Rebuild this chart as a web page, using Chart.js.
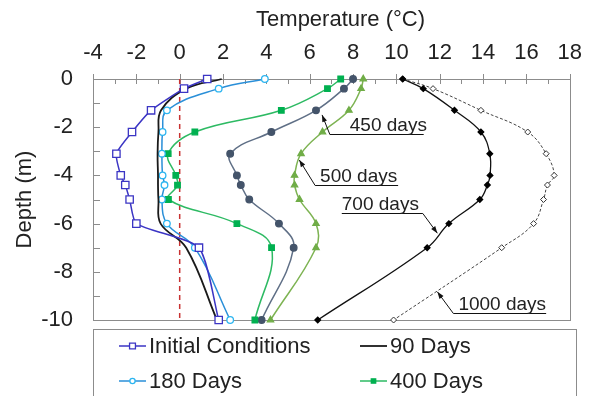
<!DOCTYPE html>
<html>
<head>
<meta charset="utf-8">
<script src="https://cdn.jsdelivr.net/npm/chart.js@4.4.1/dist/chart.umd.min.js"></script>
<style>
  body { margin: 0; background: #fff; }
</style>
</head>
<body>
<canvas id="chart" width="595" height="396"></canvas>
<script>
// depths (m) shared by every profile
const depths = [0, -0.4, -1.3, -2.2, -3.1, -4.0, -4.4, -5.0, -6.0, -7.0, -10];

// temperatures (°C)
const initialTemps = [1.27, 0.2, -1.32, -2.2, -2.92, -2.72, -2.51, -2.31, -2.0, 0.89, 1.8];
const days90Temps = [1.94, 0.3, -0.86, -0.98, -1.02, -1.0, -1.0, -0.98, -0.88, 0.3, 1.72];
const days180Temps = [3.93, 1.8, -0.59, -0.79, -0.82, -0.79, -0.7, -0.82, -0.59, 0.7, 2.33];
const days400Temps = [7.43, 6.82, 4.69, 0.7, -0.53, -0.18, -0.1, -0.52, 2.64, 4.24, 3.47];
const days450Temps = [8.0, 7.58, 6.29, 4.23, 2.33, 2.64, 2.82, 3.21, 4.58, 5.26, 3.78];
const days500Temps = [8.47, 8.37, 7.81, 6.59, 5.6, 5.3, 5.3, 5.53, 6.29, 6.29, 4.19];
const days700Temps = [10.29, 11.24, 12.68, 13.9, 14.31, 14.32, 14.2, 13.85, 12.42, 11.42, 6.37];
const days1000Temps = [10.29, 11.69, 13.9, 16.06, 16.91, 17.28, 16.97, 16.79, 16.33, 14.86, 9.87];

// freezing line
const freezeTemps = [0, 0];
const freezeDepths = [0, -10];

// callout labels: text, text left, underline from/to, underline depth, arrow tip
const callouts = [
  { text: '450 days', tx: 7.85, x0: 6.93, x1: 11.26, y: -2.29, tip: [6.57, -1.49], elbow: 6.93 },
  { text: '500 days', tx: 6.48, x0: 6.25, x1: 10.08, y: -4.40, tip: [5.52, -3.36], elbow: 6.25 },
  { text: '700 days', tx: 7.48, x0: 7.48, x1: 11.22, y: -5.56, tip: [11.89, -6.40], elbow: 11.22 },
  { text: '1000 days', tx: 12.86, x0: 12.63, x1: 16.91, y: -9.72, tip: [11.89, -8.83], elbow: 12.63 }
];

const FONT = '"Liberation Sans", Arial, sans-serif';
const TEXT = '#222';

function profile(label, temps, style) {
  return Object.assign({
    label: label,
    data: temps.map((t, i) => ({ x: t, y: depths[i] })),
    showLine: true,
    tension: 0.4,
    borderWidth: 1.5,
    pointBorderWidth: 1.3,
    clip: false
  }, style);
}

const datasets = [
  profile('Initial Conditions', initialTemps, {
    borderColor: '#3B35C4', pointStyle: 'rect', pointRadius: 5.2,
    pointBackgroundColor: '#fff', pointBorderColor: '#3B35C4', tension: 0.2
  }),
  profile('90 Days', days90Temps, {
    borderColor: '#1a1a1a', borderWidth: 1.8, pointRadius: 0
  }),
  profile('180 Days', days180Temps, {
    borderColor: '#2A8FD8', pointStyle: 'circle', pointRadius: 3.3,
    pointBackgroundColor: '#fff', pointBorderColor: '#2CB5F0'
  }),
  profile('400 Days', days400Temps, {
    borderColor: '#2DBA63', pointStyle: 'rect', pointRadius: 3.9,
    pointBackgroundColor: '#00B050', pointBorderColor: '#00B050'
  }),
  profile('450 Days', days450Temps, {
    borderColor: '#5F6F86', pointStyle: 'circle', pointRadius: 3.3,
    pointBackgroundColor: '#44546A', pointBorderColor: '#44546A'
  }),
  profile('500 Days', days500Temps, {
    borderColor: '#7DB352', pointStyle: 'triangle', pointRadius: 3.6,
    pointBackgroundColor: '#70AD47', pointBorderColor: '#70AD47'
  }),
  profile('700 Days', days700Temps, {
    borderColor: '#111', borderWidth: 1.3, pointStyle: 'rectRot', pointRadius: 2.8,
    pointBackgroundColor: '#000', pointBorderColor: '#000'
  }),
  profile('1000 Days', days1000Temps, {
    borderColor: '#444', borderWidth: 1, borderDash: [3, 2], pointStyle: 'rectRot', pointRadius: 3,
    pointBackgroundColor: '#fff', pointBorderColor: '#333', pointBorderWidth: 1
  }),
  {
    data: freezeTemps.map((t, i) => ({ x: t, y: freezeDepths[i] })),
    showLine: true, borderColor: '#C83232', borderWidth: 1.5, borderDash: [5, 4],
    pointRadius: 0, clip: false
  }
];

// box around the plot and inward tick marks
const frame = {
  id: 'frame',
  beforeDatasetsDraw(chart) {
    const { ctx, chartArea: a, scales: { x, y } } = chart;
    ctx.save();
    ctx.strokeStyle = '#8C8C8C';
    ctx.lineWidth = 1;
    ctx.strokeRect(Math.round(a.left) + 0.5, Math.round(a.top) + 0.5,
      Math.round(a.right - a.left), Math.round(a.bottom - a.top));
    ctx.beginPath();
    for (let v = -4; v <= 18; v++) {
      const px = Math.round(x.getPixelForValue(v)) + 0.5;
      ctx.moveTo(px, a.top + (v % 2 === 0 ? -5 : 0));
      ctx.lineTo(px, a.top + 5);
    }
    for (let v = 0; v >= -10; v--) {
      const py = Math.round(y.getPixelForValue(v)) + 0.5;
      ctx.moveTo(a.left, py);
      ctx.lineTo(a.left + 7, py);
    }
    ctx.stroke();
    ctx.restore();
  }
};

// underlined labels with arrows
const calloutPlugin = {
  id: 'callouts',
  afterDatasetsDraw(chart) {
    const { ctx, scales: { x, y } } = chart;
    ctx.save();
    ctx.strokeStyle = '#111';
    ctx.lineWidth = 1;
    callouts.forEach(c => {
      const ly = Math.round(y.getPixelForValue(c.y)) + 0.5;
      const ex = x.getPixelForValue(c.elbow);
      const tx = x.getPixelForValue(c.tip[0]);
      const ty = y.getPixelForValue(c.tip[1]);
      ctx.beginPath();
      ctx.moveTo(x.getPixelForValue(c.x0), ly);
      ctx.lineTo(x.getPixelForValue(c.x1), ly);
      ctx.moveTo(ex, ly);
      ctx.lineTo(tx, ty);
      ctx.stroke();
      // arrow head
      const ang = Math.atan2(ty - ly, tx - ex);
      ctx.fillStyle = '#111';
      ctx.beginPath();
      ctx.moveTo(tx, ty);
      ctx.lineTo(tx - 7 * Math.cos(ang) + 2.5 * Math.sin(ang), ty - 7 * Math.sin(ang) - 2.5 * Math.cos(ang));
      ctx.lineTo(tx - 7 * Math.cos(ang) - 2.5 * Math.sin(ang), ty - 7 * Math.sin(ang) + 2.5 * Math.cos(ang));
      ctx.closePath();
      ctx.fill();
      ctx.font = '19px ' + FONT;
      ctx.textBaseline = 'alphabetic';
      ctx.fillStyle = TEXT;
      ctx.fillText(c.text, x.getPixelForValue(c.tx), ly - 4);
    });
    ctx.restore();
  }
};

// legend in a box, two columns
const boxLegend = {
  id: 'boxLegend',
  afterDraw(chart) {
    const ctx = chart.ctx;
    ctx.save();
    ctx.strokeStyle = '#8C8C8C';
    ctx.lineWidth = 1;
    ctx.strokeRect(93.5, 329.5, 483, 80);
    const items = chart.data.datasets.filter(d => d.label);
    items.forEach((ds, i) => {
      const lx = i % 2 ? 360 : 119;
      const ly = 346 + Math.floor(i / 2) * 35;
      ctx.strokeStyle = ds.borderColor;
      ctx.lineWidth = ds.borderWidth;
      ctx.setLineDash(ds.borderDash || []);
      ctx.beginPath();
      ctx.moveTo(lx, ly);
      ctx.lineTo(lx + 27, ly);
      ctx.stroke();
      ctx.setLineDash([]);
      if (ds.pointRadius > 0) {
        ctx.fillStyle = ds.pointBackgroundColor;
        ctx.strokeStyle = ds.pointBorderColor;
        ctx.lineWidth = ds.pointBorderWidth;
        Chart.helpers.drawPoint(ctx, {
          pointStyle: ds.pointStyle, radius: ds.pointRadius * 0.8,
          borderWidth: ds.pointBorderWidth, rotation: 0
        }, lx + 13.5, ly);
      }
      ctx.fillStyle = TEXT;
      ctx.font = '22px ' + FONT;
      ctx.textBaseline = 'middle';
      ctx.fillText(ds.label, lx + 30, ly + 1);
    });
    ctx.restore();
  }
};

new Chart(document.getElementById('chart'), {
  type: 'scatter',
  data: { datasets: datasets },
  plugins: [frame, calloutPlugin, boxLegend],
  options: {
    responsive: false,
    animation: false,
    layout: { padding: { left: 0, right: 19, top: 0, bottom: 76 } },
    plugins: { legend: { display: false }, tooltip: { enabled: false } },
    scales: {
      x: {
        type: 'linear', position: 'top', min: -4, max: 18,
        ticks: { stepSize: 2, padding: 13, color: TEXT, font: { size: 22, family: FONT } },
        grid: { display: false, drawTicks: false },
        border: { display: false },
        title: { display: true, text: '   Temperature (°C)', color: TEXT,
          font: { size: 22, family: FONT }, padding: { top: 7, bottom: 0 } },
        afterFit: s => { s.height = 79; }
      },
      y: {
        type: 'linear', min: -10, max: 0,
        ticks: { stepSize: 2, padding: 20, color: TEXT, font: { size: 22, family: FONT } },
        grid: { display: false, drawTicks: false },
        border: { display: false },
        title: { display: true, text: 'Depth (m)', color: TEXT,
          font: { size: 22, family: FONT }, padding: { top: 12, bottom: 0 } },
        afterFit: s => { s.width = 93; }
      }
    }
  }
});
</script>
</body>
</html>
